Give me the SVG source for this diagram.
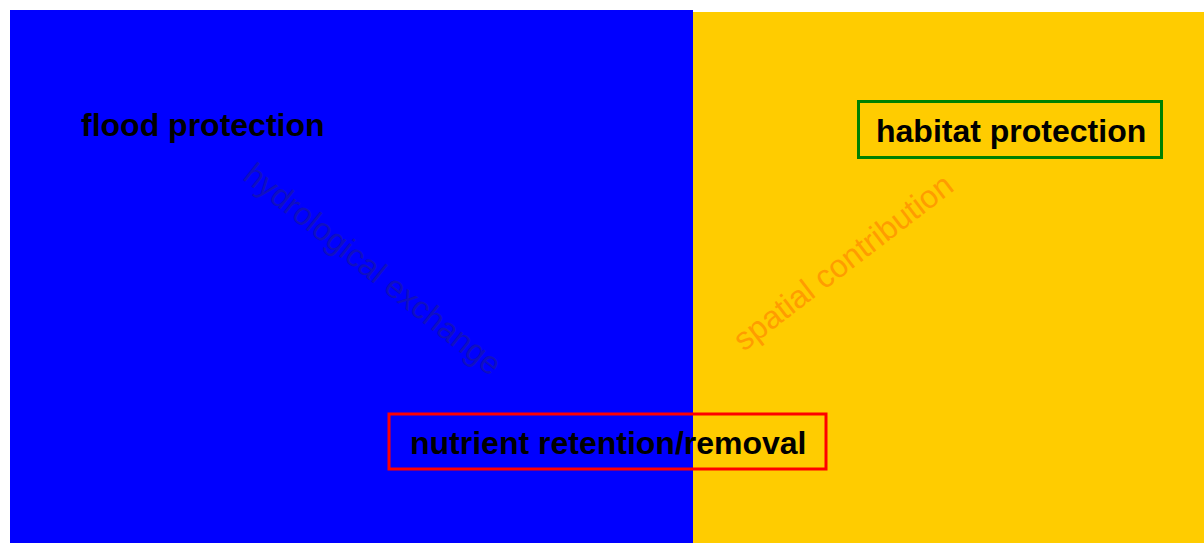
<svg xmlns="http://www.w3.org/2000/svg" width="1204" height="543" viewBox="0 0 1204 543">
<style>
.lbl{font-family:"Liberation Sans",Arial,sans-serif;font-size:32px;font-weight:bold;fill:#000}
.diag{font-family:"Liberation Sans",Arial,sans-serif;font-size:32px;text-anchor:middle}
</style>
<rect width="1204" height="543" fill="#fff"/>
<g id="region-blue"><rect x="10" y="10" width="683" height="533" fill="#0000ff"/></g>
<g id="region-yellow"><rect x="693" y="12" width="511" height="531" fill="#ffcc00"/></g>
<g id="connectors">
<text class="diag" fill="#1010c0" transform="translate(373,269) rotate(38.5)" dy="11">hydrological exchange</text>
<text class="diag" fill="#ff9c00" transform="translate(843,262) rotate(-37.5)" dy="11">spatial contribution</text>
</g>
<g id="flood"><text class="lbl" x="81" y="136">flood protection</text></g>
<g id="habitat"><rect x="858.5" y="101.5" width="303" height="56" fill="none" stroke="#008000" stroke-width="3"/><text class="lbl" x="876" y="142">habitat protection</text></g>
<g id="nutrient"><rect x="389" y="414" width="437" height="55" fill="none" stroke="#ff0000" stroke-width="3"/><text class="lbl" x="410" y="454">nutrient retention/removal</text></g>
</svg>
